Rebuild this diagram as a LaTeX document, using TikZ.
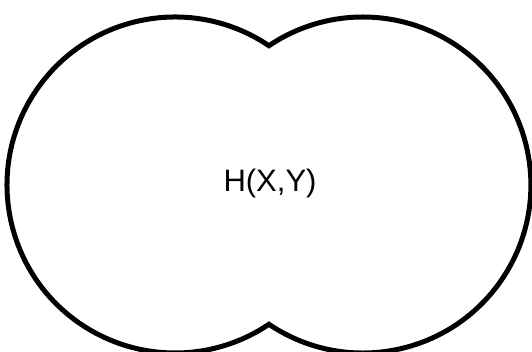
\documentclass[tikz,border=0pt]{standalone}
\usepackage{fontspec}
\setmainfont{Liberation Sans}

\tikzset{
  outline/.style={line width=5pt, line join=miter},
  entlabel/.style={font=\fontsize{31}{31}\selectfont}
}

\begin{document}
\begin{tikzpicture}[x=1pt, y=1pt]
  \useasboundingbox (0,0) rectangle (532,352);

  % Circle centres
  \coordinate (cx) at (175,167);
  \coordinate (cy) at (362,167);

  % Outline of the union of both circles
  \draw[outline] (cx) ++(56:168)
    arc[start angle=56, end angle=304, radius=168]
    arc[start angle=236, end angle=484, radius=168] -- cycle;

  % Joint entropy label
  \node[entlabel] (hxy) at (270,169) {H(X,Y)};
\end{tikzpicture}
\end{document}
